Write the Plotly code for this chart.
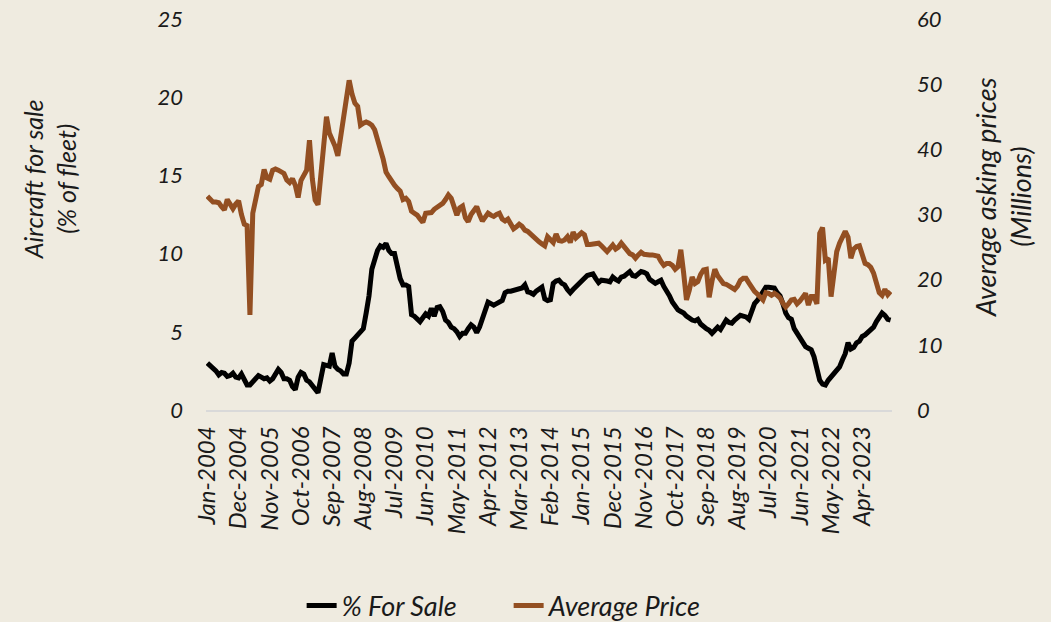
import pandas as pd
import plotly.graph_objects as go

# Monthly categories Jan-2004 .. Feb-2024
months = [d.strftime("%b-%Y") for d in pd.date_range("2004-01-01", periods=242, freq="MS")]

tick_labels = ["Jan-2004", "Dec-2004", "Nov-2005", "Oct-2006", "Sep-2007", "Aug-2008",
               "Jul-2009", "Jun-2010", "May-2011", "Apr-2012", "Mar-2013", "Feb-2014",
               "Jan-2015", "Dec-2015", "Nov-2016", "Oct-2017", "Sep-2018", "Aug-2019",
               "Jul-2020", "Jun-2021", "May-2022", "Apr-2023"]

pct_for_sale = [
    3.0, 2.85, 2.7, 2.5, 2.25, 2.4, 2.35, 2.15, 2.2, 2.35, 2.1, 2.05,
    2.3, 2.0, 1.6, 1.6, 1.8, 2.0, 2.2, 2.1, 2.0, 2.05, 1.85, 2.0,
    2.25, 2.6, 2.4, 2.0, 2.0, 1.9, 1.5, 1.3, 2.1, 2.4, 2.3, 1.9,
    1.8, 1.6, 1.4, 1.1, 2.0, 2.9, 2.85, 2.8, 3.65, 2.8, 2.6, 2.5,
    2.3, 2.3, 3.0, 4.4, 4.6, 4.8, 5.0, 5.2, 6.2, 7.3, 9.0, 9.6,
    10.2, 10.5, 10.4, 10.65, 10.2, 10.0, 10.0, 9.2, 8.4, 8.0, 8.0, 7.9,
    6.1, 6.0, 5.8, 5.65, 5.9, 6.15, 6.0, 6.5, 6.0, 6.55, 6.6, 6.3,
    5.75, 5.6, 5.3, 5.2, 5.0, 4.7, 4.9, 4.9, 5.2, 5.45, 5.3, 4.95,
    5.3, 5.85, 6.3, 6.9, 6.8, 6.7, 6.8, 6.9, 7.0, 7.5, 7.6, 7.6,
    7.65, 7.65, 7.7, 7.8, 8.0, 7.55, 7.5, 7.4, 7.6, 7.75, 7.85, 7.1,
    7.0, 7.05, 8.1, 8.25, 8.3, 8.1, 8.0, 7.7, 7.5, 7.7, 7.9, 8.1,
    8.3, 8.45, 8.6, 8.65, 8.7, 8.4, 8.15, 8.3, 8.3, 8.25, 8.2, 8.5,
    8.35, 8.25, 8.5, 8.55, 8.7, 8.85, 8.6, 8.55, 8.7, 8.85, 8.8, 8.7,
    8.35, 8.2, 8.1, 8.2, 8.3, 7.9, 7.65, 7.3, 6.9, 6.6, 6.4, 6.3,
    6.2, 6.0, 5.85, 5.75, 5.7, 5.8, 5.5, 5.3, 5.2, 5.1, 4.9, 5.1,
    5.3, 5.15, 5.4, 5.75, 5.6, 5.55, 5.75, 5.9, 6.05, 6.0, 5.95, 5.8,
    6.4, 6.8, 7.0, 7.3, 7.55, 7.85, 7.85, 7.8, 7.8, 7.5, 7.3, 6.8,
    6.2, 5.9, 5.8, 5.2, 4.9, 4.65, 4.4, 4.05, 3.95, 3.85, 3.4, 2.6,
    1.9, 1.65, 1.6, 1.9, 2.1, 2.35, 2.55, 2.75, 3.2, 3.6, 4.3, 3.9,
    4.0, 4.3, 4.4, 4.7, 4.8, 4.95, 5.1, 5.3, 5.65, 5.95, 6.2, 6.05,
    5.8, 5.75,
]

avg_price = [
    32.8, 32.2, 31.9, 31.9, 31.8, 31.2, 30.7, 32.3, 31.5, 30.9, 31.6, 32.1,
    30.0, 28.5, 28.3, 14.6, 30.2, 32.5, 34.3, 34.6, 36.9, 35.6, 35.4, 36.8,
    37.0, 36.8, 36.6, 36.3, 35.3, 34.9, 35.5, 34.5, 32.6, 35.2, 36.0, 36.8,
    41.4, 35.5, 32.2, 31.5, 36.0, 40.5, 45.0, 42.5, 41.5, 40.5, 39.0, 41.8,
    45.0, 48.5, 50.6, 48.5, 47.1, 46.6, 43.7, 44.0, 44.2, 44.0, 43.7, 43.0,
    41.2, 40.0, 38.5, 36.5, 35.8, 35.0, 34.5, 34.0, 33.6, 32.3, 32.5, 32.0,
    30.5, 30.2, 29.9, 29.3, 28.8, 30.2, 30.3, 30.3, 30.8, 31.1, 31.4, 31.7,
    32.3, 33.0, 32.5, 31.0, 29.9, 31.0, 31.3, 29.5, 28.9, 30.0, 30.8, 31.2,
    30.0, 29.0, 29.6, 30.2, 29.9, 29.7, 30.0, 30.2, 29.3, 29.0, 29.3, 28.5,
    27.8, 28.1, 28.5, 28.2, 27.6, 27.4, 27.0, 26.4, 26.0, 25.8, 25.5, 25.2,
    26.6, 26.2, 25.7, 27.0, 26.0, 25.9, 26.1, 26.6, 25.7, 27.3, 26.4, 26.8,
    27.2, 26.9, 25.4, 25.4, 25.5, 25.5, 25.6, 25.2, 24.7, 24.3, 24.8, 25.3,
    24.7, 25.0, 25.6, 25.0, 24.3, 24.0, 23.8, 23.3, 23.8, 24.2, 23.9, 23.8,
    23.8, 23.8, 23.7, 23.6, 22.8, 22.2, 22.5, 22.5, 22.2, 21.6, 22.0, 24.6,
    21.0, 16.9, 18.4, 20.4, 19.4, 19.7, 20.8, 21.5, 21.6, 17.3, 19.8, 21.6,
    20.6, 20.0, 19.4, 19.3, 19.1, 18.8, 18.5, 19.0, 19.9, 20.2, 20.2, 19.5,
    18.8, 18.2, 17.8, 17.3, 16.9, 18.0, 17.9, 17.6, 17.9, 17.6, 17.2, 16.4,
    15.8, 16.3, 16.9, 17.0, 16.3, 16.7, 17.3, 17.9, 16.1, 17.4, 17.4, 16.3,
    27.1, 28.0, 23.0, 23.3, 17.4, 21.0, 24.3, 25.6, 26.5, 27.4, 26.5, 23.3,
    24.7, 25.1, 25.2, 23.5, 22.5, 22.3, 21.9, 21.0, 19.4, 18.0, 17.6, 18.5,
    17.7, 18.2,
]

BG = "#EFEBE0"
BROWN = "#934F22"
TXT = "#1a1a1a"
FONT = "Lato"

fig = go.Figure()
fig.add_trace(go.Scatter(x=months, y=pct_for_sale, name="% For Sale", mode="lines",
                         line=dict(color="black", width=5), yaxis="y"))
fig.add_trace(go.Scatter(x=months, y=avg_price, name="Average Price", mode="lines",
                         line=dict(color=BROWN, width=5), yaxis="y2"))

fig.update_layout(
    width=1051, height=622,
    paper_bgcolor=BG, plot_bgcolor=BG,
    margin=dict(l=206, r=159, t=19, b=212, autoexpand=False),
    font=dict(family=FONT, color=TXT, size=20, style="italic"),
    showlegend=True,
    legend=dict(orientation="h", xref="container", yref="container",
                x=0.287, xanchor="left", y=0.026, yanchor="middle",
                bgcolor="rgba(0,0,0,0)", font=dict(size=27, family=FONT, style="italic", color=TXT),
                entrywidth=162, entrywidthmode="pixels", tracegroupgap=0),
    xaxis=dict(type="category", tickvals=tick_labels, ticktext=tick_labels, tickangle=-90,
               showgrid=False, zeroline=False, showline=True, linecolor="#D9D9D9", linewidth=1.5,
               ticks="", ticklabelstandoff=5,
               tickfont=dict(size=24, family=FONT, style="italic", color=TXT),
               range=[-0.5, len(months) - 0.5]),
    yaxis=dict(range=[0, 25], dtick=5, showgrid=False, zeroline=False, showline=False,
               ticks="", ticklabelstandoff=22,
               tickfont=dict(size=22, family=FONT, style="italic", color=TXT)),
    yaxis2=dict(range=[0, 60], dtick=10, overlaying="y", side="right", showgrid=False,
                zeroline=False, showline=False, ticks="", ticklabelstandoff=24,
                tickfont=dict(size=22, family=FONT, style="italic", color=TXT)),
    annotations=[
        dict(text="Aircraft for sale<br>(% of fleet)", xref="paper", yref="paper",
             x=-0.227, y=0.591, xanchor="center", yanchor="middle", textangle=-90,
             showarrow=False, font=dict(size=25, family=FONT, style="italic", color=TXT)),
        dict(text="Average asking prices<br>(Millions)", xref="paper", yref="paper",
             x=1.162, y=0.545, xanchor="center", yanchor="middle", textangle=-90,
             showarrow=False, font=dict(size=27, family=FONT, style="italic", color=TXT)),
    ],
)

fig.write_html("out.html", config={"displayModeBar": False})

# remove the browser's default page margin so the figure sits at the window's corner
with open("out.html", "r", encoding="utf-8") as f:
    html = f.read()
html = html.replace("<head>", "<head><style>html,body{margin:0;padding:0;}</style>", 1)
with open("out.html", "w", encoding="utf-8") as f:
    f.write(html)
